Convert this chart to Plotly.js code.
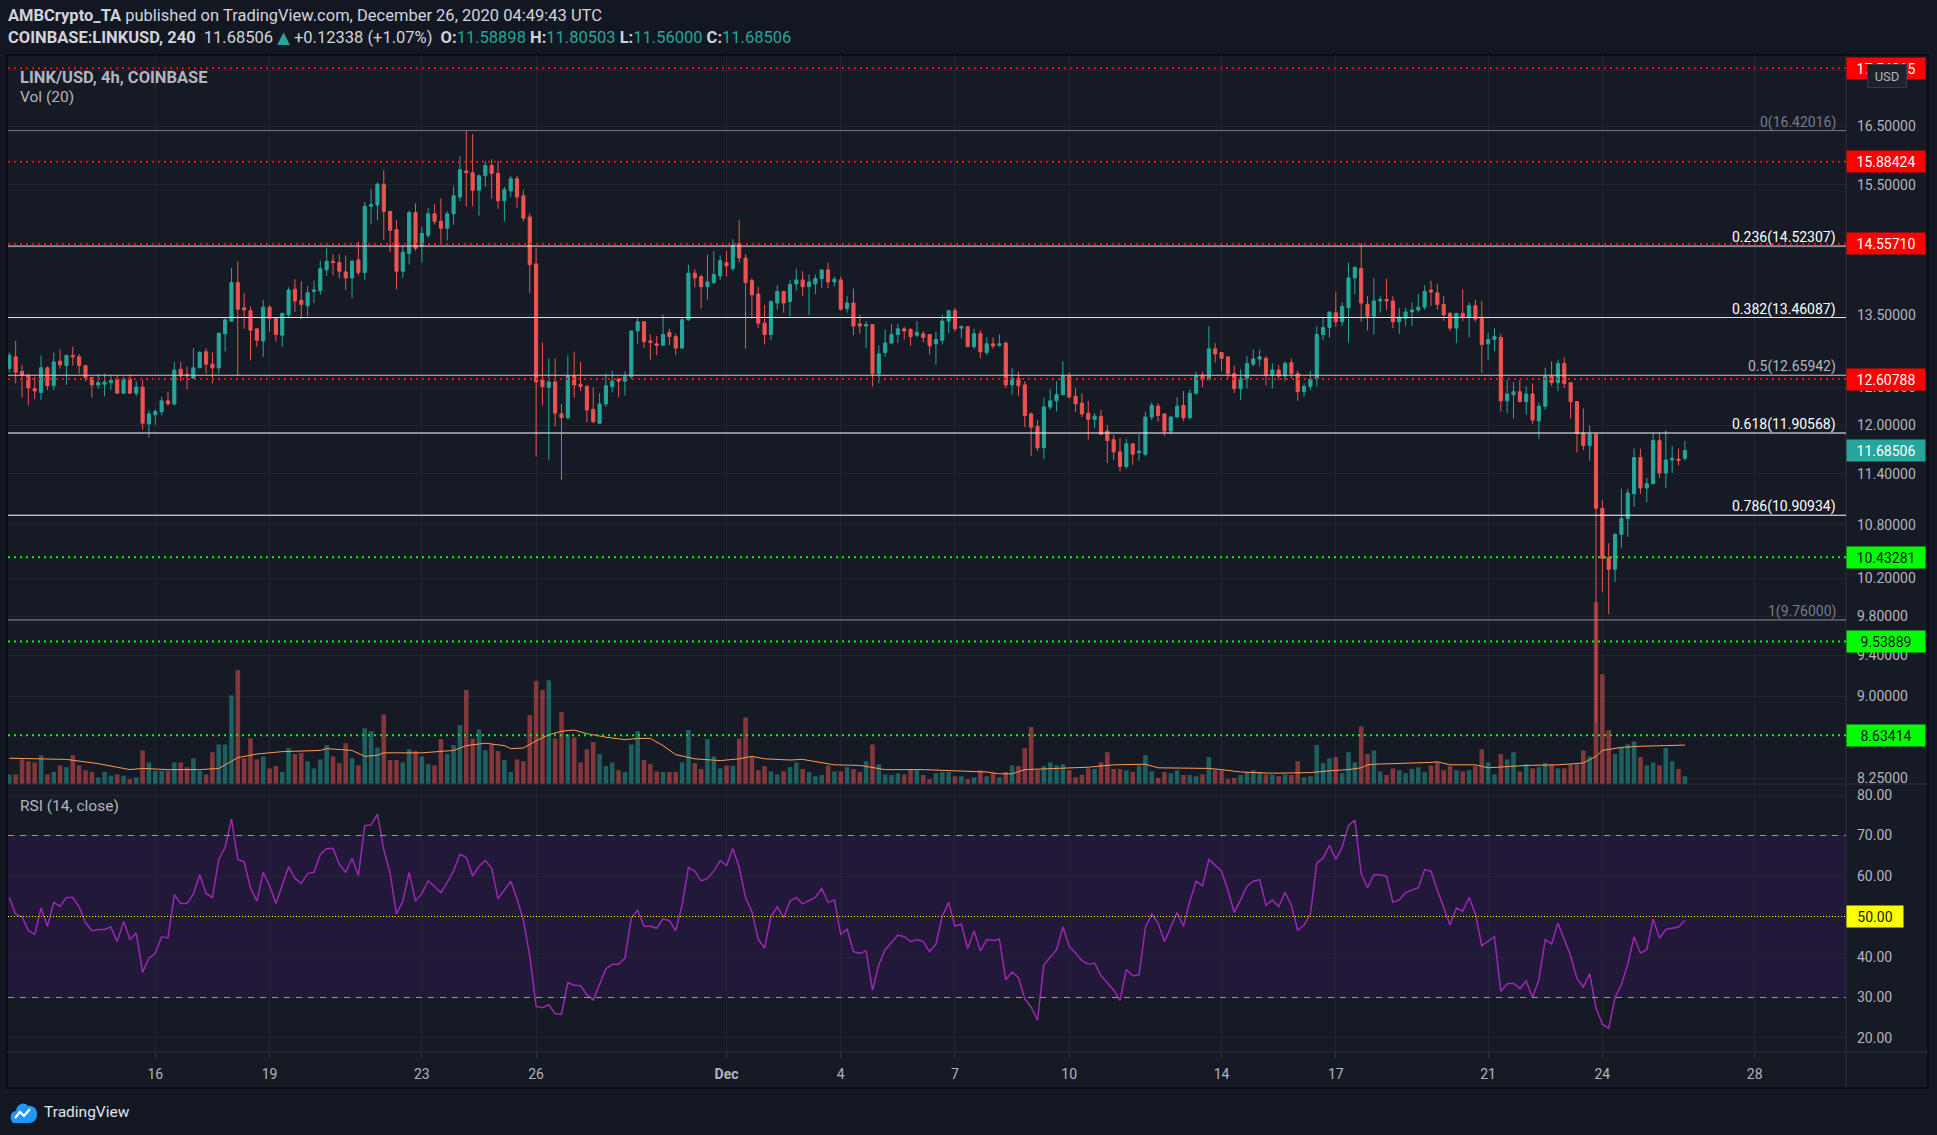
<!DOCTYPE html>
<html><head><meta charset="utf-8">
<script src="https://cdn.plot.ly/plotly-3.0.1.min.js"></script>
<style>html,body{margin:0;padding:0;background:#131722;overflow:hidden}#chart{width:1937px;height:1135px}</style>
</head><body><div id="chart"></div><script>
// ---------- DATA (4h bars, first bar 2020-11-12 04:00 UTC) ----------
const firstBarUTC = Date.UTC(2020, 10, 12, 4, 0);
const barHours = 4;
const open = [
12.75,12.91,12.71,12.66,12.48,12.43,12.76,12.52,12.85,12.79,
12.93,12.91,12.79,12.63,12.53,12.54,12.56,12.61,12.42,12.61,
12.42,12.50,12.02,12.14,12.18,12.32,12.28,12.74,12.67,12.62,
12.76,12.98,12.81,12.76,13.23,13.41,13.97,13.60,13.56,13.30,
13.13,13.61,13.45,13.21,13.50,13.87,13.71,13.63,13.84,13.85,
14.16,14.29,14.27,14.13,14.04,14.31,14.12,15.15,15.17,15.51,
15.07,14.78,14.14,14.41,15.05,14.52,14.69,15.03,14.91,14.80,
15.03,15.30,15.73,15.70,15.41,15.65,15.82,15.69,15.24,15.40,
15.60,15.32,14.98,14.25,12.60,12.50,12.57,12.15,12.10,12.65,
12.54,12.51,12.21,12.03,12.28,12.51,12.61,12.58,12.64,13.27,
13.40,13.13,13.09,13.07,13.25,13.19,13.03,13.43,14.11,14.06,
13.91,13.97,14.07,14.27,14.18,14.56,14.34,14.00,13.80,13.38,
13.22,13.67,13.84,13.69,13.95,14.01,13.91,13.95,14.03,14.16,
13.98,14.01,13.59,13.67,13.37,13.34,13.36,12.68,12.97,13.10,
13.22,13.30,13.29,13.21,13.23,13.22,13.09,13.14,13.41,13.56,
13.31,13.33,13.05,13.23,12.97,13.09,13.07,13.10,12.53,12.62,
12.53,12.15,11.99,11.72,12.24,12.32,12.40,12.65,12.38,12.29,
12.16,12.08,12.12,11.93,11.82,11.67,11.49,11.77,11.66,11.64,
12.11,12.25,12.15,11.93,12.11,12.26,12.10,12.42,12.66,12.60,
13.02,12.97,12.91,12.68,12.48,12.62,12.81,12.88,12.89,12.66,
12.73,12.65,12.83,12.68,12.44,12.51,12.61,13.22,13.32,13.53,
13.40,13.60,14.04,14.18,13.65,13.48,13.70,13.72,13.70,13.40,
13.45,13.54,13.57,13.61,13.86,13.82,13.65,13.52,13.31,13.52,
13.47,13.63,13.45,13.09,13.15,13.18,12.32,12.40,12.44,12.31,
12.41,12.06,12.25,12.65,12.56,12.82,12.56,12.31,11.90,11.75,
11.89,10.99,10.43,10.30,10.69,10.87,11.16,11.60,11.23,11.28,
11.81,11.41,11.57,11.58,11.58898];
const high = [
12.97,13.13,12.80,12.68,12.64,12.93,12.78,12.97,13.01,12.93,
13.05,12.95,12.79,12.63,12.68,12.68,12.66,12.66,12.64,12.67,
12.58,12.60,12.20,12.21,12.37,12.44,12.84,12.84,12.78,13.03,
12.99,13.03,12.97,13.24,13.45,14.19,14.29,13.82,13.62,13.30,
13.72,13.64,13.45,13.53,13.90,14.02,13.99,13.92,14.00,14.30,
14.49,14.40,14.40,14.38,14.31,14.59,15.22,15.43,15.54,15.75,
15.07,14.93,14.54,15.08,15.20,14.82,15.12,15.18,15.28,15.07,
15.48,15.98,16.42016,16.36,15.67,15.90,15.93,15.90,15.47,15.65,
15.65,15.42,15.04,14.49,13.11,12.89,12.89,12.28,12.93,12.98,
12.84,12.53,12.50,12.42,12.68,12.72,12.62,12.71,13.27,13.46,
13.40,13.22,13.20,13.50,13.30,13.23,13.45,14.24,14.17,14.09,
14.39,14.45,14.38,14.45,14.63,14.94,14.40,14.04,13.91,13.64,
13.71,13.93,13.84,14.01,14.18,14.14,14.09,14.09,14.16,14.27,
14.06,14.06,13.77,13.88,13.50,13.41,13.36,13.07,13.29,13.37,
13.37,13.33,13.31,13.41,13.27,13.22,13.26,13.50,13.56,13.60,
13.35,13.33,13.30,13.28,13.18,13.18,13.22,13.12,12.76,12.71,
12.58,12.17,12.07,12.36,12.48,12.58,12.85,12.70,12.49,12.42,
12.32,12.16,12.20,12.01,11.88,11.84,11.83,11.77,11.89,12.18,
12.30,12.29,12.16,12.12,12.37,12.45,12.47,12.71,12.71,13.34,
13.10,12.97,12.91,12.79,12.74,12.92,13.01,13.01,12.92,12.82,
12.80,12.85,12.89,12.72,12.55,12.72,13.34,13.47,13.54,13.83,
13.68,14.27,14.20,14.57,13.77,14.04,13.77,14.03,13.77,13.60,
13.60,13.68,13.80,13.93,14.00,13.95,13.77,13.54,13.52,13.87,
13.68,13.72,13.70,13.24,13.31,13.23,12.60,12.57,12.60,12.51,
12.55,12.30,12.76,12.85,12.87,12.90,12.56,12.31,12.22,12.00,
11.91,11.08,10.59,10.70,11.22,11.22,11.71,11.71,11.35,11.90,
11.90,11.94,11.74,11.71,11.80503];
const low = [
12.70,12.55,12.36,12.26,12.34,12.33,12.46,12.46,12.75,12.53,
12.79,12.68,12.58,12.36,12.48,12.38,12.46,12.42,12.42,12.42,
12.38,11.95,11.85,12.01,12.13,12.26,12.26,12.58,12.47,12.62,
12.76,12.68,12.55,12.68,12.98,13.40,12.66,13.30,12.86,13.05,
12.91,13.26,13.12,13.05,13.45,13.54,13.44,13.48,13.67,13.79,
14.07,14.08,14.03,13.86,13.74,14.08,14.01,14.86,14.93,14.62,
14.43,13.87,14.04,14.24,14.45,14.27,14.65,14.86,14.57,14.61,
14.86,15.23,15.15,15.15,15.00,15.47,15.27,15.11,14.91,15.30,
15.13,14.91,13.82,11.61,12.26,11.57,11.99,11.33,12.08,12.36,
12.45,12.04,12.03,12.03,12.24,12.43,12.37,12.39,12.61,13.09,
13.03,12.87,12.93,13.07,13.07,12.93,13.02,13.41,13.90,13.59,
13.72,13.95,14.01,14.06,14.14,14.27,13.02,13.44,13.31,13.08,
13.14,13.57,13.53,13.48,13.85,13.77,13.50,13.80,13.89,13.89,
13.91,13.56,13.53,13.21,13.23,13.03,12.51,12.55,12.91,13.10,
13.10,13.15,13.06,13.18,13.11,12.94,12.80,13.08,13.24,13.26,
13.17,13.05,13.02,12.89,12.93,13.02,13.05,12.49,12.40,12.38,
11.98,11.62,11.68,11.58,12.20,12.18,12.40,12.35,12.17,12.11,
11.82,11.97,11.88,11.53,11.57,11.43,11.46,11.51,11.56,11.62,
12.07,12.05,11.87,11.89,12.10,12.06,12.08,12.40,12.50,12.60,
12.83,12.71,12.62,12.42,12.33,12.48,12.78,12.78,12.52,12.48,
12.60,12.58,12.62,12.32,12.38,12.46,12.51,13.14,13.18,13.33,
13.34,13.11,13.80,13.40,13.28,13.22,13.53,13.57,13.31,13.23,
13.34,13.34,13.53,13.57,13.63,13.57,13.41,13.27,13.10,13.41,
13.18,13.40,12.69,12.87,12.99,12.18,12.16,12.09,12.30,12.14,
12.02,11.83,12.20,12.52,12.45,12.49,12.09,11.66,11.69,11.56,
8.75,10.05,9.82,10.16,10.54,10.66,11.01,11.16,11.06,11.28,
11.35,11.23,11.41,11.50,11.56];
const close = [
12.93,12.70,12.66,12.49,12.45,12.76,12.52,12.84,12.80,12.93,
12.91,12.79,12.63,12.53,12.56,12.57,12.59,12.42,12.61,12.42,
12.50,12.03,12.15,12.18,12.32,12.28,12.73,12.65,12.65,12.76,
12.97,12.81,12.76,13.24,13.43,13.97,13.58,13.57,13.28,13.14,
13.61,13.45,13.22,13.52,13.86,13.70,13.65,13.82,13.86,14.18,
14.29,14.27,14.14,14.04,14.29,14.12,15.15,15.18,15.51,15.07,
14.77,14.14,14.43,15.05,14.49,14.72,15.03,14.91,14.80,15.03,
15.32,15.75,15.70,15.41,15.65,15.82,15.69,15.24,15.42,15.60,
15.30,14.96,14.24,12.57,12.51,12.57,12.16,12.10,12.65,12.53,
12.51,12.20,12.05,12.28,12.52,12.58,12.58,12.64,13.27,13.40,
13.12,13.11,13.07,13.22,13.19,13.03,13.43,14.11,14.04,13.91,
13.98,14.09,14.30,14.22,14.54,14.34,13.97,13.79,13.38,13.22,
13.69,13.84,13.67,13.94,14.01,13.91,13.98,14.03,14.16,13.98,
14.02,13.58,13.67,13.34,13.34,13.36,12.68,12.95,13.10,13.22,
13.30,13.27,13.19,13.25,13.18,13.06,13.15,13.41,13.56,13.30,
13.33,13.05,13.23,12.98,13.09,13.06,13.09,12.53,12.62,12.52,
12.13,11.98,11.72,12.24,12.32,12.40,12.65,12.37,12.28,12.15,
12.08,12.12,11.89,11.81,11.67,11.49,11.77,11.64,11.68,12.11,
12.26,12.13,11.93,12.11,12.25,12.10,12.42,12.65,12.60,13.02,
12.95,12.89,12.68,12.48,12.62,12.82,12.88,12.91,12.66,12.73,
12.65,12.82,12.68,12.44,12.51,12.61,13.22,13.32,13.54,13.40,
13.62,14.04,14.20,13.67,13.48,13.70,13.72,13.70,13.40,13.46,
13.54,13.57,13.61,13.84,13.83,13.65,13.50,13.31,13.52,13.47,
13.63,13.44,13.08,13.15,13.19,12.32,12.41,12.44,12.31,12.41,
12.07,12.25,12.65,12.56,12.82,12.55,12.31,11.90,11.75,11.89,
10.99,10.42,10.30,10.69,10.87,11.17,11.60,11.23,11.28,11.81,
11.41,11.57,11.59,11.56168,11.68506];
const volume = [
160,160,410,380,360,480,160,200,310,280,
480,310,230,200,110,200,140,160,140,80,
110,560,360,220,220,220,360,360,280,430,
220,160,530,660,660,1480,1900,430,760,410,
460,260,300,200,600,500,520,380,260,410,
650,460,350,680,430,310,930,880,610,1160,
400,400,360,580,550,460,330,310,750,500,
650,980,1570,760,910,560,660,550,400,200,
410,380,1150,1720,1570,1730,760,1200,830,780,
360,580,700,500,300,360,230,200,660,880,
400,330,210,200,200,200,360,900,350,250,
750,460,260,310,300,760,1110,460,230,300,
210,160,210,280,360,250,200,130,150,310,
210,210,280,250,200,380,660,330,160,150,
180,160,250,230,150,80,180,200,200,130,
130,80,110,230,130,180,110,200,310,300,
600,950,230,300,360,310,330,230,110,150,
260,250,360,530,250,250,230,200,310,480,
210,100,200,180,230,150,150,130,160,450,
230,230,80,100,150,200,230,200,160,150,
130,160,150,380,110,130,650,350,430,450,
180,530,360,960,500,560,210,150,260,230,
180,250,280,200,310,370,230,300,230,210,
230,300,580,360,160,500,410,530,210,330,
260,280,350,330,260,260,330,330,560,460,
3030,1830,900,500,620,660,710,450,310,360,
310,600,380,250,130];
// Volume MA(20) at selected bars (bar index, value)
const volMaBar = [0,9,14,19,21,25,30,33,34,36,39,43,49,50,54,56,58,59,65,70,72,75,78,79,81,83,85,87,89,91,94,97,99,101,103,105,108,112,115,117,119,123,125,128,130,134,138,144,149,154,156,158,160,165,170,174,179,181,186,189,191,194,199,203,205,208,211,213,214,215,220,224,225,227,231,233,236,239,244,248,250,251,254,257,261,264];
const volMa = [430,410,340,240,260,240,240,260,320,440,500,540,560,590,560,460,480,520,520,560,640,680,640,590,600,720,820,880,900,840,780,740,760,760,640,490,420,390,420,460,420,400,410,350,320,310,240,240,220,200,170,170,240,260,280,320,330,270,260,260,240,200,180,180,190,220,240,270,320,330,340,360,370,320,320,270,290,310,320,350,460,560,610,630,640,650];
const rsi = [
54.7,50.6,49.9,46.5,45.6,52.1,47.6,53.5,52.5,54.7,
54.7,52.4,48.5,46.5,46.8,46.8,47.4,43.8,48.8,44.4,
45.9,36.2,39.7,40.9,45.0,44.7,55.4,53.2,53.2,55.6,
60.3,55.7,54.7,64.1,67.1,74.1,64.1,63.5,57.1,53.8,
60.9,57.6,53.2,57.9,62.3,59.4,58.2,60.6,60.9,65.3,
66.8,66.8,62.9,60.9,64.4,60.1,72.4,72.6,75.3,66.5,
60.6,50.6,53.8,60.9,53.8,55.7,58.8,57.4,55.9,58.4,
61.3,65.3,64.6,60.0,62.4,63.8,61.9,54.4,56.5,58.7,
54.3,49.1,40.3,27.8,27.5,28.2,26.0,25.9,33.7,33.0,
32.9,30.7,29.4,33.2,37.1,38.2,38.2,39.7,49.7,51.5,
47.6,47.6,47.1,49.4,49.0,46.5,52.8,62.1,61.2,58.8,
59.4,61.2,63.8,62.6,66.8,62.1,54.7,51.2,44.4,42.2,
50.0,52.4,49.7,53.8,54.7,53.1,53.8,54.7,56.9,53.5,
54.1,45.6,46.9,41.3,40.9,41.5,31.8,38.1,41.8,43.5,
45.4,45.0,43.8,44.3,43.8,41.3,43.2,50.1,53.5,47.6,
48.1,42.1,46.5,41.5,44.3,44.1,44.4,34.4,36.3,34.9,
29.7,27.6,24.4,38.1,40.0,41.8,47.4,42.6,41.0,39.1,
38.2,38.5,35.4,33.7,31.8,29.3,36.9,35.4,35.6,47.3,
50.6,48.4,43.8,47.4,51.0,47.6,53.8,58.7,57.6,64.1,
62.6,61.2,56.5,51.0,54.1,57.5,58.7,59.1,52.8,54.1,
52.4,55.9,52.8,46.6,47.9,50.6,63.1,64.4,67.6,64.1,
67.1,72.4,73.8,60.6,57.1,60.3,60.3,59.9,53.5,54.1,
55.9,56.5,57.1,61.6,61.2,56.5,52.1,47.9,52.1,51.3,
54.7,50.6,42.8,44.0,45.0,31.5,33.4,33.5,32.2,34.1,
30.0,34.4,44.3,43.2,48.4,44.3,40.3,34.7,32.6,35.9,
27.4,23.4,22.4,30.0,33.2,38.2,45.0,41.0,41.8,49.4,
44.7,46.8,47.1,47.4,49.1];

// Levels drawn on the chart
const resistanceLevels = [17.54315, 15.88424, 14.55710, 12.60788];
const supportLevels = [10.43281, 9.53889, 8.63414];
const fibRatios = [0, 0.236, 0.382, 0.5, 0.618, 0.786, 1];
const fibPrices = [16.42016, 14.52307, 13.46087, 12.65942, 11.90568, 10.90934, 9.76000];
const fibLineColors = ['#787b86','#e6e6e6','#e6e6e6','#c8cad0','#ffffff','#ffffff','#8a8d96'];
const fibTextColors = ['#787b86','#ffffff','#ffffff','#b2b5be','#ffffff','#ffffff','#787b86'];
const rsiBands = {upper:70, middle:50, lower:30};

// Ticks (17.5 and 14.5 sit under level labels, so their text is hidden)
const priceTicks = [17.5,16.5,15.5,14.5,13.5,12.5,12,11.4,10.8,10.2,9.8,9.4,9.0,8.25];
const priceTickText = ['','16.50000','15.50000','','13.50000','12.50000','12.00000','11.40000','10.80000','10.20000','9.80000','9.40000','9.00000','8.25000'];
const rsiTicks = [20,30,40,50,60,70,80];
const rsiTickText = ['20.00','30.00','40.00','','60.00','70.00','80.00'];
const dateTicks = ['2020-11-16','2020-11-19','2020-11-23','2020-11-26','2020-12-01','2020-12-04','2020-12-07','2020-12-10','2020-12-14','2020-12-17','2020-12-21','2020-12-24','2020-12-28'];
const dateTickText = ['16','19','23','26','<b>Dec</b>','4','7','10','14','17','21','24','28'];

// ---------- BUILD ----------
const fmt = ms => new Date(ms).toISOString().slice(0,16).replace('T',' ');
const times = open.map((_, i) => fmt(firstBarUTC + i*barHours*3600e3));
const last = close.length - 1;

const W=1937, H=1135, ML=8, MR=91, MT=55, MB=83;
const PW=W-ML-MR, PH=H-MT-MB;
const px = x => (x-ML)/PW;
const py = y => (H-MB-y)/PH;
const split = py(784);
const FONT = 'Roboto, "Open Sans", "DejaVu Sans", sans-serif';
const TEAL='#26a69a', RED='#ef5350';

const volColors = close.map((c,i)=> c>=open[i] ? 'rgba(38,166,154,0.5)' : 'rgba(239,83,80,0.5)');

const traces = [
 {type:'bar', x:times, y:volume, xaxis:'x', yaxis:'y', marker:{color:volColors, line:{width:0}},
  width: barHours*3600e3*0.72, hoverinfo:'skip', showlegend:false},
 {type:'scatter', mode:'lines', x:volMaBar.map(i=>times[i]), y:volMa, xaxis:'x', yaxis:'y',
  line:{color:'#ff9a52', width:1}, hoverinfo:'skip', showlegend:false},
 {type:'candlestick', x:times, open:open, high:high, low:low, close:close, xaxis:'x', yaxis:'y2',
  increasing:{line:{color:TEAL, width:1}, fillcolor:TEAL},
  decreasing:{line:{color:RED, width:1}, fillcolor:RED},
  whiskerwidth:0, hoverinfo:'skip', showlegend:false},
 {type:'scatter', mode:'lines', x:times, y:rsi, xaxis:'x', yaxis:'y3',
  line:{color:'#9c27b0', width:1.5}, hoverinfo:'skip', showlegend:false}
];

const shapes = [];
shapes.push({type:'rect', xref:'paper', yref:'paper', x0:px(7), x1:px(1928), y0:py(1088), y1:py(55),
  fillcolor:'#161a25', line:{color:'#06070a', width:1.5}, layer:'below'});
shapes.push({type:'rect', xref:'paper', yref:'y3', x0:0, x1:1, y0:rsiBands.lower, y1:rsiBands.upper,
  fillcolor:'#22193a', line:{width:0}, layer:'below'});
shapes.push({type:'line', xref:'paper', yref:'paper', x0:px(7), x1:px(1928), y0:py(784), y1:py(784), line:{color:'#2a2e39', width:1}});
shapes.push({type:'line', xref:'paper', yref:'paper', x0:px(7), x1:px(1928), y0:py(1052), y1:py(1052), line:{color:'#2a2e39', width:1}});
shapes.push({type:'line', xref:'paper', yref:'paper', x0:1, x1:1, y0:py(1088), y1:py(55), line:{color:'#2a2e39', width:1}});
fibPrices.forEach((p,i)=> shapes.push({type:'line', xref:'paper', yref:'y2', x0:0, x1:1, y0:p, y1:p,
  line:{color:fibLineColors[i], width:1}}));
resistanceLevels.forEach(p=> shapes.push({type:'line', xref:'paper', yref:'y2', x0:0, x1:1, y0:p, y1:p,
  line:{color:'#ff0000', width:2, dash:'2px,4px'}}));
supportLevels.forEach(p=> shapes.push({type:'line', xref:'paper', yref:'y2', x0:0, x1:1, y0:p, y1:p,
  line:{color:'#00ff00', width:2, dash:'2px,4px'}}));
[rsiBands.upper, rsiBands.lower].forEach(v=> shapes.push({type:'line', xref:'paper', yref:'y3', x0:0, x1:1, y0:v, y1:v,
  line:{color:'#9598a1', width:1, dash:'6px,6px'}}));
shapes.push({type:'line', xref:'paper', yref:'y3', x0:0, x1:1, y0:rsiBands.middle, y1:rsiBands.middle,
  line:{color:'#ffff00', width:1, dash:'1px,2px'}});

const ann = [];
const txt = (x,y,text,opts={}) => Object.assign({xref:'paper', yref:'paper', x:px(x), y:py(y), text, showarrow:false,
  xanchor:'left', yanchor:'middle', font:{family:FONT, size:16.5, color:'#d1d4dc'}}, opts);
const teal = s => '<span style="color:'+TEAL+'">'+s+'</span>';
const chg = close[last]-close[last-1];
ann.push(txt(6,15,'<b>AMBCrypto_TA</b> published on TradingView.com, December 26, 2020 04:49:43 UTC'));
ann.push(txt(6,38,'<b>COINBASE:LINKUSD, 240</b>  '+close[last].toFixed(5)+' '+teal('▲')+' +'+chg.toFixed(5)+' (+'+(chg/close[last-1]*100).toFixed(2)+'%)  '+
  '<b>O:</b>'+teal(open[last].toFixed(5))+' <b>H:</b>'+teal(high[last].toFixed(5))+' <b>L:</b>'+teal(low[last].toFixed(5))+' <b>C:</b>'+teal(close[last].toFixed(5))));
ann.push(txt(18,77,'<b>LINK/USD, 4h, COINBASE</b>', {font:{family:FONT,size:16.5,color:'#b2b5be'}}));
ann.push(txt(18,97,'Vol (20)', {font:{family:FONT,size:15.5,color:'#b2b5be'}}));
ann.push(txt(18,806,'RSI (14, close)', {font:{family:FONT,size:15.5,color:'#b2b5be'}}));
ann.push(txt(42,1112,'TradingView', {font:{family:FONT,size:15.5,color:'#e0e3eb'}}));
fibPrices.forEach((p,i)=> ann.push({xref:'paper', yref:'y2', x:px(1838), y:Math.log10(p), xanchor:'right', yanchor:'bottom',
  text:fibRatios[i]+'('+p.toFixed(5)+')', showarrow:false, font:{family:FONT, size:14, color:fibTextColors[i]}, yshift:-2}));
const axLab = (yref, y, text, bg, fg, w) => ({xref:'paper', yref, x:1, y, xanchor:'left', yanchor:'middle', text, showarrow:false,
  bgcolor:bg, font:{family:FONT, size:14, color:fg}, width:w||74, height:17, borderpad:2, align:'center'});
resistanceLevels.forEach(p=> ann.push(axLab('y2', Math.log10(p), p.toFixed(5), '#ff0000', '#ffffff')));
supportLevels.forEach(p=> ann.push(axLab('y2', Math.log10(p), p.toFixed(5), '#00ff00', '#131722')));
ann.push(axLab('y2', Math.log10(close[last]), close[last].toFixed(5), TEAL, '#ffffff'));
ann.push(axLab('y3', rsiBands.middle, rsiBands.middle.toFixed(2), '#ffff00', '#131722', 52));
ann.push({xref:'paper', yref:'paper', x:px(1887), y:py(76), xanchor:'center', yanchor:'middle', text:'USD', showarrow:false,
  bgcolor:'#1e222d', bordercolor:'#363a45', borderwidth:1, borderpad:3, width:32, height:16,
  font:{family:FONT, size:13, color:'#b2b5be'}});

const logoSvg = "<svg xmlns='http://www.w3.org/2000/svg' viewBox='0 0 30 26'><path d='M3 23 C0 18 2 12 7 12 C8 5 15 2 19 7 C24 6 29 10 28 16 C28 21 24 24 20 24 L6 24 C5 24 4 24 3 23 Z' fill='#2196f3'/><path d='M6 19 L11 13 L15 17 L21 10' stroke='#ffffff' stroke-width='2.2' fill='none'/></svg>";

const axisFont = {family:FONT, size:14, color:'#b2b5be'};
const layout = {
  width:W, height:H, margin:{l:ML, r:MR, t:MT, b:MB},
  paper_bgcolor:'#131722', plot_bgcolor:'rgba(0,0,0,0)',
  showlegend:false, hovermode:false, dragmode:false,
  xaxis:{type:'date', range:['2020-11-12 03:10','2020-12-30 09:33'], anchor:'y3',
    tickmode:'array', tickvals:dateTicks, ticktext:dateTickText, tickfont:axisFont,
    showgrid:true, gridcolor:'#232632', gridwidth:1, ticks:'outside', ticklen:5, tickcolor:'#363a45',
    zeroline:false, showline:false, rangeslider:{visible:false}, ticklabelstandoff:4},
  yaxis:{domain:[split,1], range:[0,12160], visible:false, fixedrange:true},
  yaxis2:{overlaying:'y', side:'right', anchor:'x', type:'log', range:[Math.log10(8.198), Math.log10(17.794)],
    tickmode:'array', tickvals:priceTicks, ticktext:priceTickText, tickfont:axisFont,
    showgrid:true, gridcolor:'#232632', zeroline:false, showline:false, ticks:'', ticklabelstandoff:10},
  yaxis3:{domain:[0,split], side:'right', anchor:'x', range:[16.54,82.72],
    tickmode:'array', tickvals:rsiTicks, ticktext:rsiTickText, tickfont:axisFont,
    showgrid:true, gridcolor:'#232632', zeroline:false, showline:false, ticks:'', ticklabelstandoff:10},
  shapes:shapes, annotations:ann,
  images:[{source:'data:image/svg+xml;utf8,'+encodeURIComponent(logoSvg), xref:'paper', yref:'paper',
    x:px(9), y:py(1099), sizex:30/PW, sizey:26/PH, xanchor:'left', yanchor:'top', sizing:'stretch', layer:'above'}]
};
Plotly.newPlot('chart', traces, layout, {displayModeBar:false, staticPlot:true});
</script></body></html>
